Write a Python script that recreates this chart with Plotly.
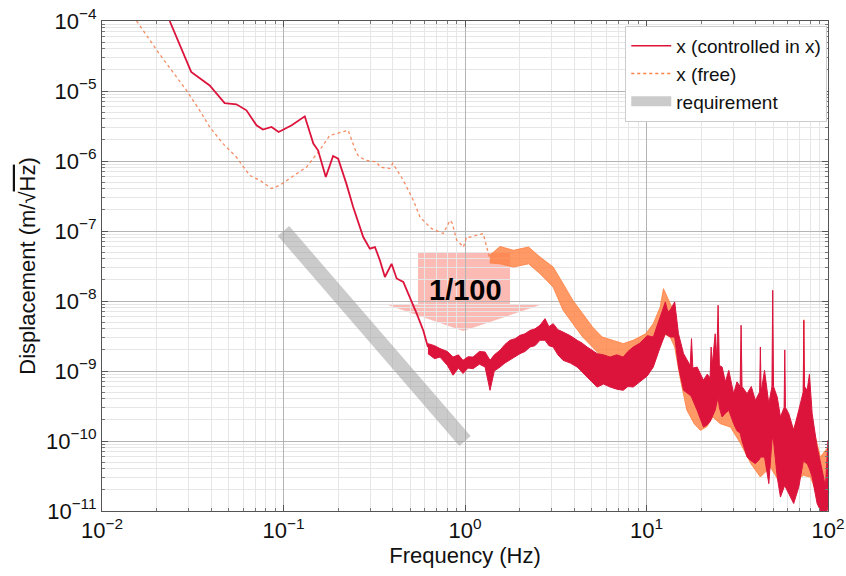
import plotly.graph_objects as go

# ---------------- data ----------------
# controlled curve, smooth low-frequency part
ctrl_f = [0.0236, 0.031, 0.0392, 0.0474, 0.055, 0.0625, 0.071, 0.077, 0.0859, 0.094,
          0.111, 0.131, 0.146, 0.155, 0.171, 0.1876, 0.2, 0.222, 0.242, 0.253, 0.275,
          0.299, 0.319, 0.34, 0.362, 0.394, 0.42, 0.457, 0.498, 0.542, 0.589, 0.625]
ctrl_d = [1.0e-4, 1.87e-5, 1.2e-5, 6.7e-6, 6.45e-6, 5.3e-6, 3.24e-6, 2.81e-6, 3.06e-6, 2.6e-6,
          3.24e-6, 4.35e-6, 1.77e-6, 1.42e-6, 5.9e-7, 1.18e-6, 1.08e-6, 4.75e-7, 2.2e-7, 1.58e-7, 8.2e-8,
          5.6e-8, 5.9e-8, 3.8e-8, 2.2e-8, 3.4e-8, 2.1e-8, 1.87e-8, 1.14e-8, 6.6e-9, 3.8e-9, 2.2e-9]

# controlled curve, noisy part: upper / lower envelope of the band
ctrl_band_f = [0.625, 0.68, 0.728, 0.80, 0.859, 0.92, 0.975, 1.04, 1.107, 1.2, 1.29, 1.374, 1.45,
               1.56, 1.66, 1.77, 1.89, 2.01, 2.14, 2.28, 2.43, 2.59, 2.76, 2.9, 3.06, 3.25, 3.47,
               3.8, 4.15, 4.42, 4.71, 5.0, 5.35, 5.8, 6.3, 6.85, 7.44, 7.9, 8.45, 9.2, 10.1, 10.9,
               11.9, 12.7, 13.1, 13.5, 14.3, 15.0, 16.0, 16.8, 17.4, 17.7, 18.0, 19.0, 20.6, 21.6,
               22.4, 22.7, 23.0, 23.9, 24.4, 24.8, 25.2, 26.1, 27.2, 28.4, 30.2, 31.5, 32.8, 33.2,
               33.6, 35.8, 37.8, 39.8, 42.0, 42.4, 42.8, 44.7, 47.2, 49.1, 49.6, 50.1, 52.5, 54.7,
               57.3, 57.8, 58.3, 60.8, 64.7, 69.0, 73.0, 73.6, 74.2, 76.8, 79.0, 81.8, 87.1, 92.9,
               96.8, 100.0]
ctrl_band_hi = [2.46e-9, 2.3e-9, 2.09e-9, 1.9e-9, 1.58e-9, 1.7e-9, 1.42e-9, 1.6e-9, 1.58e-9, 1.9e-9,
                1.87e-9, 1.42e-9, 1.7e-9, 1.98e-9, 2.4e-9, 2.75e-9, 2.9e-9, 3.23e-9, 3.4e-9, 3.8e-9,
                4.0e-9, 4.5e-9, 5.6e-9, 4.3e-9, 4.75e-9, 3.9e-9, 3.6e-9, 3.2e-9, 2.75e-9, 2.5e-9,
                2.2e-9, 2.0e-9, 1.77e-9, 1.7e-9, 1.58e-9, 1.7e-9, 1.58e-9, 1.9e-9, 2.2e-9, 2.5e-9,
                3.2e-9, 3.06e-9, 5.9e-9, 9.7e-9, 7.0e-9, 7.4e-9, 9.7e-9, 3.4e-9, 1.77e-9, 1.4e-9,
                1.2e-9, 2.9e-9, 1.1e-9, 1.14e-9, 7.4e-10, 9e-10, 8e-10, 2.2e-9, 1.2e-9, 3.4e-9,
                1.5e-9, 8.7e-9, 1.2e-9, 1.14e-9, 7e-10, 1.02e-9, 4.75e-10, 7e-10, 6e-10, 4.5e-9,
                6e-10, 4.75e-10, 6e-10, 3.8e-10, 5e-10, 2.2e-9, 5e-10, 1.02e-9, 3.4e-10, 6e-10,
                1.42e-8, 6e-10, 4.25e-10, 2.2e-10, 3e-10, 2.0e-9, 3e-10, 2.46e-10, 1.42e-10, 2.75e-10,
                5e-10, 5.3e-9, 6e-10, 5.3e-10, 9e-10, 2.46e-10, 8.2e-11, 3.8e-11, 2.2e-11, 1.02e-10]
ctrl_band_lo = [1.77e-9, 1.5e-9, 1.58e-9, 1.2e-9, 8.7e-10, 1.1e-9, 9.2e-10, 1.1e-9, 1.08e-9, 1.25e-9,
                1.14e-9, 5.3e-10, 1.0e-9, 1.14e-9, 1.3e-9, 1.42e-9, 1.6e-9, 1.77e-9, 1.9e-9, 2.2e-9,
                2.3e-9, 2.75e-9, 2.75e-9, 2.3e-9, 2.2e-9, 1.7e-9, 1.42e-9, 1.3e-9, 1.14e-9, 9.5e-10,
                8.2e-10, 7e-10, 5.9e-10, 6.5e-10, 5.9e-10, 5.5e-10, 5.3e-10, 6e-10, 5.9e-10, 7e-10,
                8.5e-10, 1.14e-9, 2.2e-9, 3.4e-9, 3.2e-9, 3.06e-9, 3.06e-9, 1.14e-9, 5.3e-10, 4.8e-10,
                4.5e-10, 4.25e-10, 4.0e-10, 2.75e-10, 1.58e-10, 1.7e-10, 1.9e-10, 1.98e-10, 2.2e-10,
                2.75e-10, 3.5e-10, 4.25e-10, 3.0e-10, 2.2e-10, 2.5e-10, 2.75e-10, 1.77e-10, 1.4e-10,
                1.3e-10, 1.14e-10, 1.0e-10, 5.9e-11, 5.2e-11, 4.75e-11, 5.5e-11, 5.9e-11, 5.9e-11,
                5.9e-11, 2.46e-11, 1.0e-10, 1.14e-10, 1.0e-10, 3.06e-11, 1.58e-11, 2.2e-11, 2.46e-11,
                2.2e-11, 1.8e-11, 1.28e-11, 2.2e-11, 5.0e-11, 5.9e-11, 5.0e-11, 4.75e-11, 4e-11,
                3.06e-11, 1.28e-11, 9e-12, 9e-12, 1.1e-11]

# free curve, dotted low-frequency part
free_f = [0.0155, 0.0207, 0.0292, 0.0345, 0.0392, 0.0464, 0.055, 0.065, 0.074, 0.086, 0.0953,
          0.111, 0.134, 0.158, 0.18, 0.2, 0.227, 0.253, 0.262, 0.287, 0.326, 0.34, 0.385, 0.40,
          0.457, 0.519, 0.565, 0.64, 0.655, 0.759, 0.827, 0.85, 0.9, 0.98, 1.02, 1.07, 1.26,
          1.37]
free_d = [1.0e-4, 3.4e-5, 1.02e-5, 5.3e-6, 3.06e-6, 1.77e-6, 1.14e-6, 6.25e-7, 5.3e-7, 4.04e-7, 4.5e-7,
          5.9e-7, 8.2e-7, 1.42e-6, 2.33e-6, 2.5e-6, 2.75e-6, 1.28e-6, 1.14e-6, 1.02e-6, 9.7e-7, 8.2e-7,
          7.8e-7, 9.3e-7, 5.3e-7, 2.75e-7, 1.58e-7, 1.14e-7, 1.08e-7, 9.2e-8, 1.42e-7, 1.3e-7, 7.4e-8,
          5.9e-8, 8.2e-8, 8.2e-8, 9.2e-8, 4.0e-8]

# free curve, noisy part: upper / lower envelope of the band
free_band_f = [1.37, 1.56, 1.85, 2.24, 2.59, 3.06, 3.47, 3.93, 4.45, 5.04, 5.7, 6.46, 7.44, 8.45,
               9.9, 10.9, 11.9, 12.4, 13.5, 14.3, 15.4, 16.7, 18.3, 19.8, 21.5, 23.2, 25.5, 29.0,
               33.0, 37.6, 42.4, 48.1, 54.7, 62.1, 70.5, 73.0, 73.6, 74.2, 80.0, 90.8, 100.0]
free_band_hi = [4.5e-8, 6.0e-8, 5.3e-8, 5.9e-8, 4.25e-8, 3.06e-8, 1.77e-8, 1.02e-8, 6.6e-9, 4.25e-9,
                3.06e-9, 2.75e-9, 2.46e-9, 2.75e-9, 3.4e-9, 4.75e-9, 8.2e-9, 1.5e-8, 9.2e-9, 6.6e-9,
                1.77e-9, 1.02e-9, 7.4e-10, 6.6e-10, 6.6e-10, 7.4e-10, 5.3e-10, 4.25e-10, 3.4e-10,
                2.46e-10, 2.2e-10, 1.58e-10, 1.42e-10, 1.14e-10, 2.75e-10, 3e-10, 5.4e-9, 3e-10,
                2.2e-10, 5.9e-11, 8.2e-11]
free_band_lo = [3.5e-8, 3.4e-8, 3.06e-8, 3.4e-8, 2.46e-8, 1.58e-8, 7.4e-9, 4.75e-9, 3.06e-9, 2.2e-9,
                1.58e-9, 1.28e-9, 1.2e-9, 1.28e-9, 1.58e-9, 2.0e-9, 2.2e-9, 3.4e-9, 3.06e-9, 2.2e-9,
                7.4e-10, 2.75e-10, 1.77e-10, 1.42e-10, 1.6e-10, 2.2e-10, 1.77e-10, 1.58e-10, 9.2e-11,
                4.75e-11, 3.06e-11, 4.25e-11, 2.46e-11, 2.0e-11, 3.06e-11, 3.2e-11, 3.5e-11, 3.2e-11,
                3.06e-11, 1.28e-11, 1.28e-11]

# requirement line
req_f = [0.1, 1.0]
req_d = [1.0e-7, 1.0e-10]

# tick labels
x_tickvals = [0.01, 0.1, 1, 10, 100]
x_ticktext = ["10<sup>−2</sup>", "10<sup>−1</sup>", "10<sup>0</sup>", "10<sup>1</sup>", "10<sup>2</sup>"]
y_tickvals = [1e-11, 1e-10, 1e-9, 1e-8, 1e-7, 1e-6, 1e-5, 1e-4]
y_ticktext = ["10<sup>−11</sup>", "10<sup>−10</sup>", "10<sup>−9</sup>", "10<sup>−8</sup>",
              "10<sup>−7</sup>", "10<sup>−6</sup>", "10<sup>−5</sup>", "10<sup>−4</sup>"]

series_names = ["x (controlled in x)", "x (free)", "requirement"]
arrow_label = "1/100"

# ---------------- styling ----------------
RED = "#dc143c"
ORANGE = "#ff8040"
GRAY = "rgba(160,160,160,0.55)"
FONT = "Liberation Sans, Arial, sans-serif"

fig = go.Figure()

# requirement
fig.add_trace(go.Scatter(x=req_f, y=req_d, mode="lines", line=dict(color=GRAY, width=15),
                         showlegend=False, hoverinfo="skip"))

# free: dotted part + band
fig.add_trace(go.Scatter(x=free_f, y=free_d, mode="lines",
                         line=dict(color="rgba(245,120,70,0.85)", width=1.3, dash="dot"),
                         showlegend=False))
fig.add_trace(go.Scatter(x=free_band_f + free_band_f[::-1], y=free_band_hi + free_band_lo[::-1],
                         mode="lines", fill="toself", fillcolor="rgba(255,128,64,0.8)",
                         line=dict(color="rgba(255,128,64,0.85)", width=1), showlegend=False))

# controlled: line + band
fig.add_trace(go.Scatter(x=ctrl_f, y=ctrl_d, mode="lines", line=dict(color=RED, width=1.8),
                         showlegend=False))
fig.add_trace(go.Scatter(x=ctrl_band_f + ctrl_band_f[::-1], y=ctrl_band_hi + ctrl_band_lo[::-1],
                         mode="lines", fill="toself", fillcolor=RED,
                         line=dict(color=RED, width=1), showlegend=False))

# legend entries
fig.add_trace(go.Scatter(x=[None], y=[None], mode="lines", name=series_names[0],
                         line=dict(color=RED, width=1.5)))
fig.add_trace(go.Scatter(x=[None], y=[None], mode="lines", name=series_names[1],
                         line=dict(color=ORANGE, width=1.5, dash="dot")))
fig.add_trace(go.Scatter(x=[None], y=[None], mode="lines", name=series_names[2],
                         line=dict(color=GRAY, width=15)))

# "1/100" block arrow (paper coordinates)
fig.add_shape(type="path", xref="paper", yref="paper", layer="between",
              path="M 0.4353 0.5265 L 0.5620 0.5265 L 0.5620 0.4204 L 0.6033 0.4204 "
                   "L 0.4975 0.3673 L 0.3939 0.4204 L 0.4353 0.4204 Z",
              fillcolor="rgba(248,120,105,0.5)", line=dict(width=0))
fig.add_annotation(xref="paper", yref="paper", x=0.5, y=0.452, text="<b>" + arrow_label + "</b>",
                   showarrow=False, font=dict(family=FONT, size=29, color="black"))

axis_common = dict(
    type="log", automargin=False, ticklabeloverflow="allow",
    showline=True, linecolor="#555555", linewidth=1, mirror="ticks",
    ticks="inside", ticklen=6, tickcolor="#555555",
    showgrid=True, gridcolor="#b4b4b4", gridwidth=1,
    tickfont=dict(family=FONT, size=22, color="#111111"),
    minor=dict(dtick="D1", ticks="inside", ticklen=3, tickcolor="#777777",
               showgrid=True, gridcolor="#e6e6e6", gridwidth=1),
)

fig.update_xaxes(range=[-2, 2], tickmode="array", tickvals=x_tickvals, ticktext=x_ticktext,
                 title=dict(text="Frequency (Hz)", font=dict(family=FONT, size=22, color="#111111"),
                            standoff=0),
                 **axis_common)
fig.update_yaxes(range=[-11, -4], tickmode="array", tickvals=y_tickvals, ticktext=y_ticktext,
                 title=dict(text="Displacement (m/√<span style='text-decoration:overline'>Hz</span>)",
                            font=dict(family=FONT, size=22, color="#111111"), standoff=4),
                 **axis_common)

fig.update_layout(
    width=846, height=576,
    margin=dict(l=102, r=18, t=21, b=65),
    paper_bgcolor="white", plot_bgcolor="white",
    font=dict(family=FONT, color="#111111"),
    legend=dict(x=0.999, xanchor="right", y=0.99, yanchor="top",
                bgcolor="white", bordercolor="#cccccc", borderwidth=1,
                font=dict(family=FONT, size=19, color="#111111"),
                itemwidth=40, tracegroupgap=0),
    showlegend=True,
)

# remove the default page margin so the figure sits at the window's top-left corner
fig.write_html("out.html",
               config={"displayModeBar": False},
               post_script="document.body.style.margin='0px';document.body.style.overflow='hidden';")
